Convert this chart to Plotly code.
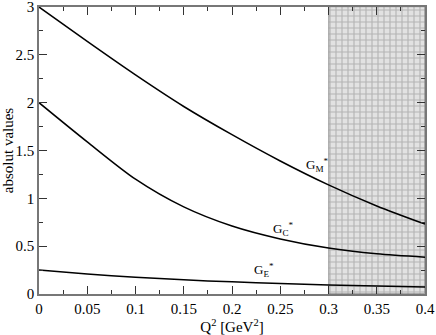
import plotly.graph_objects as go

# Q^2 grid [GeV^2] and absolute values of the form factors
q2 = [0.0, 0.05, 0.1, 0.15, 0.2, 0.25, 0.3, 0.35, 0.4]
g_m = [3.00, 2.64, 2.29, 1.96, 1.665, 1.39, 1.14, 0.92, 0.73]
g_c = [2.00, 1.59, 1.20, 0.91, 0.71, 0.575, 0.48, 0.42, 0.385]
g_e = [0.25, 0.21, 0.175, 0.148, 0.127, 0.11, 0.095, 0.083, 0.074]

# shaded region
band_x = [0.35]
band_w = [0.1]
band_h = [3.0]

labels = ["G<sub>M</sub><sup>*</sup>", "G<sub>C</sub><sup>*</sup>", "G<sub>E</sub><sup>*</sup>"]
label_x = [0.288, 0.253, 0.233]
label_y = [1.35, 0.68, 0.25]

FONT = "Times New Roman, Liberation Serif, DejaVu Serif, serif"

fig = go.Figure()

fig.add_trace(
    go.Bar(
        x=band_x,
        y=band_h,
        width=band_w,
        marker=dict(
            color="white",
            line=dict(color="#666", width=0.6),
            pattern=dict(shape="+", size=6, solidity=0.35, fgcolor="#888", bgcolor="#e2e2e2"),
        ),
        showlegend=False,
        hoverinfo="skip",
    )
)

for ys in (g_m, g_c, g_e):
    fig.add_trace(
        go.Scatter(
            x=q2,
            y=ys,
            mode="lines",
            line=dict(color="black", width=1.5, shape="spline", smoothing=0.8),
            showlegend=False,
        )
    )

for t, x, y in zip(labels, label_x, label_y):
    fig.add_annotation(
        x=x, y=y, text=t, showarrow=False,
        font=dict(family=FONT, size=13, color="black"),
    )

axis_common = dict(
    showline=True,
    linecolor="#777",
    linewidth=1.5,
    mirror="allticks",
    ticks="inside",
    ticklen=8,
    tickwidth=1,
    tickcolor="#333",
    showgrid=False,
    zeroline=False,
    automargin=False,
    ticklabeloverflow="allow",
    tickfont=dict(family=FONT, size=15, color="black"),
)

fig.update_layout(
    width=436,
    height=335,
    margin=dict(l=39, r=11, t=7, b=41),
    plot_bgcolor="white",
    paper_bgcolor="white",
    bargap=0,
    font=dict(family=FONT, color="black"),
    xaxis=dict(
        range=[0, 0.4],
        tickvals=[0, 0.05, 0.1, 0.15, 0.2, 0.25, 0.3, 0.35, 0.4],
        ticktext=["0", "0.05", "0.1", "0.15", "0.2", "0.25", "0.3", "0.35", "0.4"],
        minor=dict(ticks="inside", ticklen=4, dtick=0.025, tick0=0, tickcolor="#333"),
        title=dict(text="Q<sup>2</sup> [GeV<sup>2</sup>]", font=dict(family=FONT, size=15), standoff=2),
        **axis_common,
    ),
    yaxis=dict(
        range=[0, 3],
        tickvals=[0, 0.5, 1, 1.5, 2, 2.5, 3],
        ticktext=["0", "0.5", "1", "1.5", "2", "2.5", "3"],
        minor=dict(ticks="inside", ticklen=4, dtick=0.25, tick0=0, tickcolor="#333"),
        title=dict(text="absolut values", font=dict(family=FONT, size=15), standoff=4),
        **axis_common,
    ),
)

# page has a default body margin; remove it so the figure sits at the corner
fig.write_html(
    "out.html",
    config={"displayModeBar": False},
    post_script="document.body.style.margin='0';",
)
